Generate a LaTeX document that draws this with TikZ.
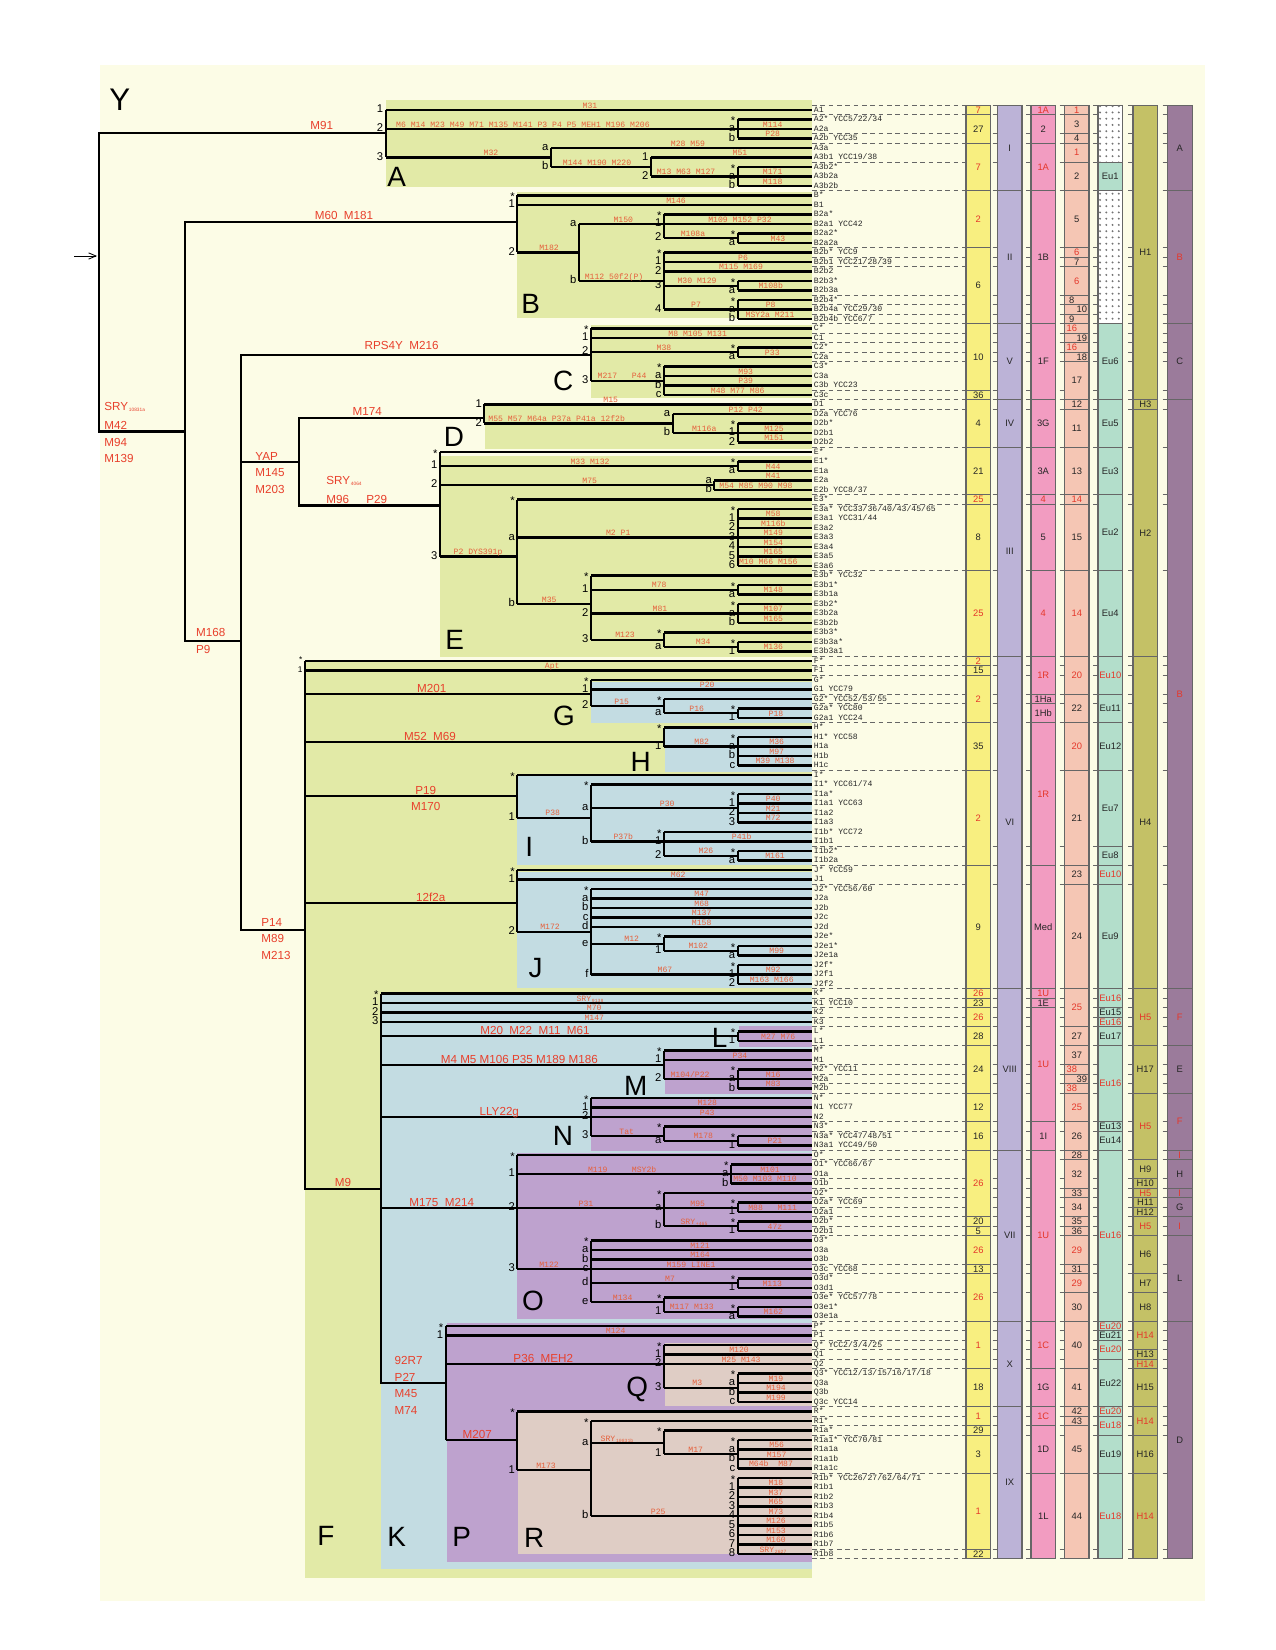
\documentclass[tikz,border=0pt]{standalone}
\usepackage{fontspec}
\setmainfont{Liberation Sans}
\setmonofont{Liberation Mono}
\usetikzlibrary{arrows.meta,patterns}
\definecolor{cream}{HTML}{FCFCE6}
\definecolor{cgreen}{HTML}{E2EAA7}
\definecolor{cblue}{HTML}{C3DCE2}
\definecolor{cpurp}{HTML}{BEA2CE}
\definecolor{cbeige}{HTML}{DFCDC5}
\definecolor{colY}{HTML}{F8EF80}
\definecolor{colL}{HTML}{BCB3D7}
\definecolor{colP}{HTML}{F29CC1}
\definecolor{colS}{HTML}{F5C6B4}
\definecolor{colM}{HTML}{B3DECB}
\definecolor{colO}{HTML}{C4C166}
\definecolor{colV}{HTML}{9B7B9B}
\definecolor{redt}{HTML}{E8402C}
\definecolor{mucol}{HTML}{E5603C}
\definecolor{rd}{HTML}{E5372A}
\definecolor{cline}{HTML}{666666}
\colorlet{bk}{black!85}
\pgfmathdeclarefunction{ry}{1}{\pgfmathparse{110+9.5*(#1)}}
\newcommand\stm{\raisebox{-1.3pt}{*}}
\newcommand\subt[1]{\raisebox{-0.6pt}{\fontsize{2.3}{3}\selectfont\,#1}}
\newcommand\brV[3]{\draw[br] (#1,{ry(#2)}) -- (#1,{ry(#3)});}
\newcommand\brH[6]{\draw[br] (#1,{ry(#3)}) -- (#2,{ry(#3)});
  \node[mk] at (#1-1.5,{ry(#3)+2.6}) {#4};
  \node[mu] at (#5,{ry(#3)-1.8}) {#6};}
\newcommand\brL[5]{\brH{#1}{812}{#2}{#3}{#4}{#5}}
\newcommand\brS[2]{\brH{#1}{812}{#2}{\stm}{0}{}}
\newcommand\colcell[6]{\filldraw[fill=#4,draw=cline,line width=0.5pt] (#1,{ry(#2-0.5)}) rectangle ++(24.5,{9.5*(#3-#2+1)});
  \node[ctx,text=#5] at (#1+12.25,{ry((#2+#3)/2)}) {#6};}

\begin{document}
\begin{tikzpicture}[x=0.48pt,y=-0.48pt,
  br/.style={line width=1pt},
  mu/.style={font=\ttfamily\fontsize{3.9}{4}\selectfont,text=mucol,anchor=base,inner sep=0pt},
  mk/.style={font=\fontsize{5.4}{6}\selectfont,anchor=base east,inner sep=0.3pt},
  big/.style={font=\fontsize{5.6}{6.5}\selectfont,text=redt,inner sep=0pt},
  lett/.style={font=\fontsize{13.4}{14}\selectfont,inner sep=0pt},
  lf/.style={font=\ttfamily\fontsize{3.9}{4}\selectfont,text=bk,anchor=base west,inner sep=0pt},
  ctx/.style={font=\fontsize{4.5}{5}\selectfont,inner sep=0pt},
  dsh/.style={cline,line width=0.5pt,dash pattern=on 2.2pt off 1.8pt}]
\useasboundingbox (0,0) rectangle (1275,1650);
\fill[white] (0,0) rectangle (1275,1650);
\fill[cream] (100,65) rectangle (1205,1601);

% clade boxes
\fill[cgreen] (385.7,100) rectangle (812,186.7);
\fill[cgreen] (517.3,191.7) rectangle (812,318);
\fill[cgreen] (591,325) rectangle (812,398.3);
\fill[cgreen] (485,403.3) rectangle (812,449);
\fill[cgreen] (440,455.7) rectangle (812,656.7);
\fill[cgreen] (305,661) rectangle (812,1578);
\fill[cblue] (591,681.7) rectangle (812,723.3);
\fill[cblue] (665,728) rectangle (812,771.7);
\fill[cblue] (517.3,775) rectangle (812,865);
\fill[cblue] (517.3,871.7) rectangle (812,988.3);
\fill[cblue] (381,992) rectangle (812,1569.3);
\fill[cpurp] (739,1026) rectangle (812,1046.7);
\fill[cpurp] (665,1049.3) rectangle (812,1094);
\fill[cpurp] (591,1097.3) rectangle (812,1150.7);
\fill[cpurp] (517.3,1153.3) rectangle (812,1319);
\fill[cpurp] (446.7,1323) rectangle (812,1561.7);
\fill[cbeige] (665,1343.3) rectangle (812,1406);
\fill[cbeige] (517.7,1410) rectangle (812,1554.3);

% cell boundaries
\foreach \k in {0,1,3,4,6,9,15,16,17,20,21,22,23,24,25,26,27,30,31,32,36,41,42,49,58,59,60,62,63,65,70,78,80,82,93,94,95,96,97,99,101,102,103,104,107,108,110,111,113,114,115,116,117,118,119,122,123,125,128,129,130,131,132,133,137,138,139,140,144,152,153} {
  \draw[dsh] (812,{ry(\k-0.5)}) -- (966,{ry(\k-0.5)});
  \foreach \g in {997.5,1031,1064.5,1098,1133,1167.5}
    \draw[cline,line width=0.5pt] (\g-5,{ry(\k-0.5)}) -- (\g,{ry(\k-0.5)});
}

% columns
\foreach \a/\b/\t/\c in {0/0/7/rd,1/3/27/bk,4/8/7/rd,9/14/2/rd,15/22/6/bk,23/29/10/bk,30/30/36/bk,31/35/4/bk,36/40/21/bk,41/41/25/rd,42/48/8/bk,49/57/25/rd,58/58/2/rd,59/59/15/bk,60/64/2/rd,65/69/35/bk,70/79/2/rd,80/92/9/bk,93/93/26/rd,94/94/23/bk,95/96/26/rd,97/98/28/bk,99/103/24/bk,104/106/12/bk,107/109/16/bk,110/116/26/rd,117/117/20/bk,118/118/5/bk,119/121/26/rd,122/122/13/bk,123/127/26/rd,128/132/1/rd,133/136/18/bk,137/138/1/rd,139/139/29/bk,140/143/3/bk,144/151/1/rd,152/152/22/bk}
  {\colcell{966}{\a}{\b}{colY}{\c}{\t}}
\foreach \a/\b/\t in {0/8/I,9/22/II,23/30/V,31/35/IV,36/57/III,58/92/VI,93/109/VIII,110/127/VII,128/136/X,137/152/IX}
  {\colcell{997.5}{\a}{\b}{colL}{bk}{\t}}
\foreach \a/\b/\t/\c in {0/0/1A/rd,1/3/2/bk,4/8/1A/rd,9/22/1B/bk,23/30/1F/bk,31/35/3G/bk,36/40/3A/bk,41/41/4/rd,42/48/5/bk,49/57/4/rd,58/61/1R/rd,62/62/1Ha/bk,63/64/1Hb/bk,65/79/1R/rd,80/92/Med/bk,93/93/1U/rd,94/94/1E/bk,95/106/1U/rd,107/109/1I/bk,110/127/1U/rd,128/132/1C/rd,133/136/1G/bk,137/138/1C/rd,139/143/1D/bk,144/152/1L/bk}
  {\colcell{1031}{\a}{\b}{colP}{\c}{\t}}
\foreach \a/\b/\t/\c in {0/0/1/rd,1/2/3/bk,3/3/4/bk,4/5/1/rd,6/8/2/bk,9/14/5/bk,15/15/6/rd,16/16/7/bk,17/19/6/rd,20/20//bk,21/21//bk,22/22//bk,23/23//rd,24/24//bk,25/25//rd,26/26//bk,27/30/17/bk,31/31/12/bk,32/35/11/bk,36/40/13/bk,41/41/14/rd,42/48/15/bk,49/57/14/rd,58/61/20/rd,62/64/22/bk,65/69/20/rd,70/79/21/bk,80/81/23/bk,82/92/24/bk,93/96/25/rd,97/98/27/bk,99/100/37/bk,101/101//rd,102/102//bk,103/103//rd,104/106/25/rd,107/109/26/bk,110/110/28/bk,111/113/32/bk,114/114/33/bk,115/116/34/bk,117/117/35/bk,118/118/36/bk,119/121/29/rd,122/122/31/bk,123/124/29/rd,125/127/30/bk,128/132/40/bk,133/136/41/bk,137/137/42/bk,138/138/43/bk,139/143/45/bk,144/152/44/bk}
  {\colcell{1064.5}{\a}{\b}{colS}{\c}{\t}}
\foreach \r/\dx/\t/\c in {20/-5/8/bk,21/5/10/bk,22/-5/9/bk,23/-5/16/rd,24/5/19/bk,25/-5/16/rd,26/5/18/bk,101/-5/38/rd,102/5/39/bk,103/-5/38/rd}
  \node[ctx,text=\c] at (1076.75+\dx,{ry(\r)}) {\t};
\foreach \a/\b/\t/\c in {6/8/Eu1/bk,23/30/Eu6/bk,31/35/Eu5/bk,36/40/Eu3/bk,41/48/Eu2/bk,49/57/Eu4/bk,58/61/Eu10/rd,62/64/Eu11/bk,65/69/Eu12/bk,70/77/Eu7/bk,78/79/Eu8/bk,80/81/Eu10/rd,82/92/Eu9/bk,93/94/Eu16/rd,95/95/Eu15/bk,96/96/Eu16/rd,97/98/Eu17/bk,99/106/Eu16/rd,107/107/Eu13/bk,108/109/Eu14/bk,110/127/Eu16/rd,128/128/Eu20/rd,129/129/Eu21/bk,130/131/Eu20/rd,132/136/Eu22/bk,137/137/Eu20/rd,138/139/Eu18/rd,140/143/Eu19/bk,144/152/Eu18/rd}
  {\colcell{1098}{\a}{\b}{colM}{\c}{\t}}
\foreach \a/\b in {0/5,9/22} {
  \colcell{1098}{\a}{\b}{white}{bk}{}
  \fill[pattern=dots,pattern color=black!55] (1098.5,{ry(\a-0.5)+0.5}) rectangle (1122,{ry(\b+0.5)-0.5});
}
\foreach \a/\b/\t/\c in {0/30/H1/bk,31/31/H3/bk,32/57/H2/bk,58/92/H4/bk,93/98/H5/rd,99/103/H17/bk,104/110/H5/rd,111/112/H9/bk,113/113/H10/bk,114/114/H5/rd,115/115/H11/bk,116/116/H12/bk,117/118/H5/rd,119/122/H6/bk,123/124/H7/bk,125/127/H8/bk,128/130/H14/rd,131/131/H13/bk,132/132/H14/rd,133/136/H15/bk,137/139/H14/rd,140/143/H16/bk,144/152/H14/rd}
  {\colcell{1133}{\a}{\b}{colO}{\c}{\t}}
\foreach \a/\b/\t/\c in {0/8/A/bk,9/22/B/rd,23/30/C/bk,31/92/B/rd,93/98/F/rd,99/103/E/bk,104/109/F/rd,110/110/I/rd,111/113/H/bk,114/114/I/rd,115/116/G/bk,117/118/I/rd,119/127/L/bk,128/152/D/bk}
  {\colcell{1167.5}{\a}{\b}{colV}{\c}{\t}}

% backbone
\coordinate (rv) at (97,256);
\coordinate (in) at (74,256);
\coordinate (kA) at (385.7,133);
\coordinate (kB) at (517.3,222);
\coordinate (kC) at (591,355);
\coordinate (kD) at (484.3,418);
\coordinate (kE) at (440,505.5);
\coordinate (kF) at (305,929.7);
\coordinate (kK) at (381,1189);
\coordinate (kP) at (445.7,{ry(134)});
\coordinate (n1) at (185.3,431.5);
\coordinate (n2) at (241,640.6);
\coordinate (n3) at (299,462.4);
\draw[line width=0.4pt,-{Straight Barb[length=3.5pt,width=3pt]}] (in) -- (rv);
\draw[br] (kA) -| (99,431.5) -- (n1);
\draw[br] (kB) -| (n1) |- (n2);
\draw[br] (kC) -| (n2) |- (kF);
\draw[br] (n2 |- n3) -- (n3);
\draw[br] (kD) -| (n3) |- (kE);
\draw[br] (305,{ry(58)}) -- (305,1189) -- (kK);
\draw[br] (381,{ry(93)}) |- (kP);

% A
\brV{385.7}{0}{5}
\brL{385.7}{0}{1}{590}{M31}
\brL{385.7}{2}{2}{523}{M6 M14 M23 M49 M71 M135 M141 P3 P4 P5 MEH1 M196 M206}
\brH{385.7}{551}{5}{3}{491}{M32}
\brV{737.7}{1}{3}
\brS{737.7}{1}
\brL{737.7}{2}{a}{772.7}{M114}
\brL{737.7}{3}{b}{772.7}{P28}
\brV{551}{4}{6}
\brL{551}{4}{a}{688}{M28 M59}
\brH{551}{651}{6}{b}{597}{M144 M190 M220}
\brV{651}{5}{7}
\brL{651}{5}{1}{740}{M51}
\brH{651}{737.7}{7}{2}{686}{M13 M63 M127}
\brV{737.7}{6}{8}
\brS{737.7}{6}
\brL{737.7}{7}{a}{772.7}{M171}
\brL{737.7}{8}{b}{772.7}{M118}
% B
\brV{517.3}{9}{15}
\brS{517.3}{9}
\brL{517.3}{10}{1}{676}{M146}
\brH{517.3}{579}{15}{2}{549}{M182}
\brV{579}{12}{18}
\brH{579}{664}{12}{a}{623.3}{M150}
\brH{579}{664}{18}{b}{614}{M112 50f2(P)}
\brV{664}{11}{13.5}
\brS{664}{11}
\brL{664}{12}{1}{740}{M109 M152 P32}
\brH{664}{737.7}{13.5}{2}{693}{M108a}
\brV{737.7}{13}{14}
\brS{737.7}{13}
\brL{737.7}{14}{a}{778}{M43}
\brV{664}{15}{21}
\brS{664}{15}
\brL{664}{16}{1}{743}{P6}
\brL{664}{17}{2}{741}{M115 M169}
\brH{664}{737.7}{18.5}{3}{697}{M30 M129}
\brH{664}{737.7}{21}{4}{696}{P7}
\brV{737.7}{18}{19}
\brS{737.7}{18}
\brL{737.7}{19}{a}{770.7}{M108b}
\brV{737.7}{20}{22}
\brS{737.7}{20}
\brL{737.7}{21}{a}{770.7}{P8}
\brL{737.7}{22}{b}{770}{MSY2a M211}
% C
\brV{591}{23}{28.5}
\brS{591}{23}
\brL{591}{24}{1}{697.7}{M8 M105 M131}
\brH{591}{737.7}{25.5}{2}{664}{M38}
\brH{591}{664}{28.5}{3}{622}{M217\ \ \ P44}
\brV{737.7}{25}{26}
\brS{737.7}{25}
\brL{737.7}{26}{a}{772.3}{P33}
\brV{664}{27}{30}
\brS{664}{27}
\brL{664}{28}{a}{745.7}{M93}
\brL{664}{29}{b}{745.7}{P39}
\brL{664}{30}{c}{737.7}{M48 M77 M86}
% D
\brV{484.3}{31}{33}
\brL{484.3}{31}{1}{610.7}{M15}
\brH{484.3}{672.7}{33}{2}{556.7}{M55 M57 M64a P37a P41a 12f2b}
\brV{672.7}{32}{34}
\brL{672.7}{32}{a}{745.7}{P12 P42}
\brH{672.7}{737.7}{34}{b}{704.3}{M116a}
\brV{737.7}{33}{35}
\brS{737.7}{33}
\brL{737.7}{34}{1}{774}{M125}
\brL{737.7}{35}{2}{774}{M151}
% E
\brV{440}{36}{47}
\brS{440}{36}
\brH{440}{737.7}{37.5}{1}{590}{M33 M132}
\brH{440}{714.3}{39.5}{2}{589.7}{M75}
\brH{440}{517.3}{47}{3}{478}{P2 DYS391p}
\brV{737.7}{37}{38}
\brS{737.7}{37}
\brL{737.7}{38}{a}{773.3}{M44}
\brV{714.3}{39}{40}
\brL{714.3}{39}{a}{773.3}{M41}
\brL{714.3}{40}{b}{756}{M54 M85 M90 M98}
\brV{517.3}{41}{52}
\brS{517.3}{41}
\brH{517.3}{737.7}{45}{a}{618.3}{M2 P1}
\brH{517.3}{591}{52}{b}{549.3}{M35}
\brV{737.7}{42}{48}
\brS{737.7}{42}
\foreach \n/\m in {1/M58,2/M116b,3/M149,4/M154,5/M165} {\brL{737.7}{42+\n}{\n}{773.3}{\m}}
\brL{737.7}{48}{6}{768.3}{M10 M66 M156}
\brV{591}{49}{55.75}
\brS{591}{49}
\brH{591}{737.7}{50.5}{1}{659.3}{M78}
\brH{591}{737.7}{53}{2}{660}{M81}
\brH{591}{664}{55.75}{3}{625}{M123}
\brV{737.7}{50}{51}
\brS{737.7}{50}
\brL{737.7}{51}{a}{773.3}{M148}
\brV{737.7}{52}{54}
\brS{737.7}{52}
\brL{737.7}{53}{a}{773.3}{M107}
\brL{737.7}{54}{b}{773.3}{M165}
\brV{664}{55}{56.5}
\brS{664}{55}
\brH{664}{737.7}{56.5}{a}{703.3}{M34}
\brV{737.7}{56}{57}
\brS{737.7}{56}
\brL{737.7}{57}{1}{773.3}{M136}
% F
\brL{305}{58}{}{0}{}
\brL{305}{59}{}{552.3}{Apt}
\node[mk,font=\fontsize{4}{4}\selectfont] at (303.5,{ry(58)+1}) {*};
\node[mk,font=\fontsize{4}{4}\selectfont] at (303.5,{ry(59)+1.8}) {1};
\brH{305}{591}{61.5}{}{0}{}
\brH{305}{664}{66.5}{}{0}{}
\brH{305}{517.3}{72.2}{}{0}{}
\brH{305}{517.3}{83.5}{}{0}{}
% G
\brV{591}{60}{62.75}
\brS{591}{60}
\brL{591}{61}{1}{707.3}{P20}
\brH{591}{664}{62.75}{2}{621.7}{P15}
\brV{664}{62}{63.5}
\brS{664}{62}
\brH{664}{737.7}{63.5}{a}{696.7}{P16}
\brV{737.7}{63}{64}
\brS{737.7}{63}
\brL{737.7}{64}{1}{776}{P18}
% H
\brV{664}{65}{67}
\brS{664}{65}
\brH{664}{737.7}{67}{1}{701.7}{M82}
\brV{737.7}{66}{69}
\brS{737.7}{66}
\brL{737.7}{67}{a}{776.7}{M36}
\brL{737.7}{68}{b}{776.7}{M97}
\brL{737.7}{69}{c}{775}{M39 M138}
% I
\brV{517.3}{70}{74.5}
\brS{517.3}{70}
\brH{517.3}{591}{74.5}{1}{552.7}{P38}
\brV{591}{71}{77}
\brS{591}{71}
\brH{591}{737.7}{73.5}{a}{667.3}{P30}
\brH{591}{664}{77}{b}{623.3}{P37b}
\brV{737.7}{72}{75}
\brS{737.7}{72}
\brL{737.7}{73}{1}{773.3}{P40}
\brL{737.7}{74}{2}{773.3}{M21}
\brL{737.7}{75}{3}{773.3}{M72}
\brV{664}{76}{78.5}
\brS{664}{76}
\brL{664}{77}{1}{741.7}{P41b}
\brH{664}{737.7}{78.5}{2}{706}{M26}
\brV{737.7}{78}{79}
\brS{737.7}{78}
\brL{737.7}{79}{a}{775}{M161}
% J
\brV{517.3}{80}{86.5}
\brS{517.3}{80}
\brL{517.3}{81}{1}{678.3}{M62}
\brH{517.3}{591}{86.5}{2}{550}{M172}
\brV{591}{82}{91}
\brS{591}{82}
\brL{591}{83}{a}{701.7}{M47}
\brL{591}{84}{b}{701.7}{M68}
\brL{591}{85}{c}{701.7}{M137}
\brL{591}{86}{d}{701.7}{M158}
\brH{591}{664}{87.75}{e}{631.7}{M12}
\brH{591}{737.7}{91}{f}{665}{M67}
\brV{664}{87}{88.5}
\brS{664}{87}
\brH{664}{737.7}{88.5}{1}{698.3}{M102}
\brV{737.7}{88}{89}
\brS{737.7}{88}
\brL{737.7}{89}{a}{776.7}{M99}
\brV{737.7}{90}{92}
\brS{737.7}{90}
\brL{737.7}{91}{1}{773.3}{M92}
\brL{737.7}{92}{2}{771.7}{M163 M166}
% K
\brS{381}{93}
\brL{381}{94}{1}{590}{SRY\subt{9138}}
\brL{381}{95}{2}{594.3}{M70}
\brL{381}{96}{3}{594.3}{M147}
\brH{381}{737.7}{97.5}{}{0}{}
\brH{381}{664}{100.5}{}{0}{}
\brH{381}{591}{106}{}{0}{}
\brH{381}{517.3}{115.6}{}{0}{}
% L
\brV{737.7}{97}{98}
\brS{737.7}{97}
\brL{737.7}{98}{1}{778.3}{M27 M76}
% M
\brV{664}{99}{102}
\brS{664}{99}
\brL{664}{100}{1}{740}{P34}
\brH{664}{737.7}{102}{2}{690}{M104/P22}
\brV{737.7}{101}{103}
\brS{737.7}{101}
\brL{737.7}{102}{a}{773.3}{M16}
\brL{737.7}{103}{b}{773.3}{M83}
% N
\brV{591}{104}{108}
\brS{591}{104}
\brL{591}{105}{1}{707.3}{M128}
\brL{591}{106}{2}{707.3}{P43}
\brH{591}{664}{108}{3}{626.7}{Tat}
\brV{664}{107}{108.5}
\brS{664}{107}
\brH{664}{737.7}{108.5}{a}{703.3}{M178}
\brV{737.7}{108}{109}
\brS{737.7}{108}
\brL{737.7}{109}{1}{775}{P21}
% O
\brV{517.3}{110}{122}
\brS{517.3}{110}
\brH{517.3}{731}{112}{1}{622.2}{M119\ \ \ \ \ MSY2b}
\brH{517.3}{664}{115.6}{2}{586}{P31}
\brH{517.3}{591}{122}{3}{549}{M122}
\brV{731}{111}{113}
\brS{731}{111}
\brL{731}{112}{a}{770}{M101}
\brL{731}{113}{b}{765}{M50 M103 M110}
\brV{664}{114}{117.5}
\brS{664}{114}
\brH{664}{737.7}{115.6}{a}{697.7}{M95}
\brH{664}{737.7}{117.5}{b}{694}{SRY\subt{+465}}
\brV{737.7}{115}{116}
\brS{737.7}{115}
\brL{737.7}{116}{1}{772.7}{M88\ \ \ M111}
\brV{737.7}{117}{118}
\brS{737.7}{117}
\brL{737.7}{118}{1}{775}{47z}
\brV{591}{119}{125.5}
\brS{591}{119}
\brL{591}{120}{a}{700}{M121}
\brL{591}{121}{b}{700}{M164}
\brL{591}{122}{c}{691}{M159 LINE1}
\brH{591}{737.7}{123.5}{d}{670}{M7}
\brH{591}{664}{125.5}{e}{622.7}{M134}
\brV{737.7}{123}{124}
\brS{737.7}{123}
\brL{737.7}{124}{1}{772.3}{M113}
\brV{664}{125}{126.5}
\brS{664}{125}
\brH{664}{737.7}{126.5}{1}{691.7}{M117 M133}
\brV{737.7}{126}{127}
\brS{737.7}{126}
\brL{737.7}{127}{a}{773.3}{M162}
% P
\brV{445.7}{128}{140}
\brS{445.7}{128}
\brL{445.7}{129}{1}{615.7}{M124}
\brH{445.7}{664}{132}{}{0}{}
\brH{445.7}{517.3}{140}{}{0}{}
% Q
\brV{664}{130}{134.5}
\brS{664}{130}
\brL{664}{131}{1}{739}{M120}
\brL{664}{132}{2}{741}{M25 M143}
\brH{664}{737.7}{134.5}{3}{697.3}{M3}
\brV{737.7}{133}{136}
\brS{737.7}{133}
\brL{737.7}{134}{a}{776}{M19}
\brL{737.7}{135}{b}{776}{M194}
\brL{737.7}{136}{c}{776}{M199}
% R
\brV{517.3}{137}{143.2}
\brS{517.3}{137}
\brH{517.3}{591}{143.2}{1}{546}{M173}
\brV{591}{138}{148}
\brS{591}{138}
\brH{591}{664}{140.3}{a}{617}{SRY\subt{10831b}}
\brH{591}{737.7}{148}{b}{658.3}{P25}
\brV{664}{139}{141.5}
\brS{664}{139}
\brH{664}{737.7}{141.5}{1}{695.7}{M17}
\brV{737.7}{140}{143}
\brS{737.7}{140}
\brL{737.7}{141}{a}{776.7}{M56}
\brL{737.7}{142}{b}{776.7}{M157}
\brL{737.7}{143}{c}{771}{M64b\ \ M87}
\brV{737.7}{144}{152}
\brS{737.7}{144}
\foreach \n/\m in {1/M18,2/M37,3/M65,4/M73,5/M126,6/M153,7/M160} {\brL{737.7}{144+\n}{\n}{776}{\m}}
\brL{737.7}{152}{8}{773}{SRY\subt{2627}}

% leaf names
\foreach \t [count=\i from 0] in {A1,A2* YCC5/22/34,A2a,A2b YCC35,A3a,A3b1 YCC19/38,A3b2*,A3b2a,A3b2b,
  B*,B1,B2a*,B2a1 YCC42,B2a2*,B2a2a,B2b* YCC9,B2b1 YCC21/28/39,B2b2,B2b3*,B2b3a,B2b4*,B2b4a YCC29/30,B2b4b YCC6/7,
  C*,C1,C2*,C2a,C3*,C3a,C3b YCC23,C3c,
  D1,D2a YCC76,D2b*,D2b1,D2b2,
  E*,E1*,E1a,E2a,E2b YCC8/37,E3*,E3a* YCC33/36/40/43/45/65,E3a1 YCC31/44,E3a2,E3a3,E3a4,E3a5,E3a6,E3b* YCC32,E3b1*,E3b1a,E3b2*,E3b2a,E3b2b,E3b3*,E3b3a*,E3b3a1,
  F*,F1,
  G*,G1 YCC79,G2* YCC52/53/55,G2a* YCC80,G2a1 YCC24,
  H*,H1* YCC58,H1a,H1b,H1c,
  I*,I1* YCC61/74,I1a*,I1a1 YCC63,I1a2,I1a3,I1b* YCC72,I1b1,I1b2*,I1b2a,
  J* YCC59,J1,J2* YCC56/60,J2a,J2b,J2c,J2d,J2e*,J2e1*,J2e1a,J2f*,J2f1,J2f2,
  K*,K1 YCC10,K2,K3,
  L*,L1,
  M*,M1,M2* YCC11,M2a,M2b,
  N*,N1 YCC77,N2,N3*,N3a* YCC47/48/51,N3a1 YCC49/50,
  O*,O1* YCC66/67,O1a,O1b,O2*,O2a* YCC69,O2a1,O2b*,O2b1,O3*,O3a,O3b,O3c YCC68,O3d*,O3d1,O3e* YCC57/78,O3e1*,O3e1a,
  P*,P1,
  Q* YCC2/3/4/25,Q1,Q2,Q3* YCC12/13/15/16/17/18,Q3a,Q3b,Q3c YCC14,
  R*,R1*,R1a*,R1a1* YCC70/81,R1a1a,R1a1b,R1a1c,R1b* YCC26/27/62/64/71,R1b1,R1b2,R1b3,R1b4,R1b5,R1b6,R1b7,R1b8}
  \node[lf] at (813.5,{ry(\i)+2.4}) {\t};

% branch labels
\node[big,anchor=base] at (321.7,130) {M91};
\node[big,anchor=base] at (344,219.5) {M60\ \ M181};
\node[big,anchor=base] at (401.7,350) {RPS4Y\ \ M216};
\node[big,anchor=base] at (367.3,415.5) {M174};
\node[big,anchor=west] at (104,407) {SRY\subt{10831a}};
\node[big,anchor=west] at (104,425.5) {M42};
\node[big,anchor=west] at (104,442.4) {M94};
\node[big,anchor=west] at (104,458.2) {M139};
\node[big,anchor=west] at (255,456.4) {YAP};
\node[big,anchor=west] at (255,472.7) {M145};
\node[big,anchor=west] at (255,489) {M203};
\node[big,anchor=west] at (326,480.6) {SRY\subt{4064}};
\node[big,anchor=west] at (326,499.4) {M96};
\node[big,anchor=west] at (366,499.4) {P29};
\node[big,anchor=west] at (195.7,632.7) {M168};
\node[big,anchor=west] at (195.7,649) {P9};
\node[big,anchor=west] at (261,922.4) {P14};
\node[big,anchor=west] at (261,938.8) {M89};
\node[big,anchor=west] at (261,955.8) {M213};
\node[big,anchor=base] at (431.7,{ry(61.5)-1.5}) {M201};
\node[big,anchor=base] at (430,{ry(66.5)-1.5}) {M52\ \ M69};
\node[big,anchor=base] at (425.7,{ry(72.2)-1.5}) {P19};
\node[big] at (425.7,{ry(72.2)+11}) {M170};
\node[big,anchor=base] at (430.7,{ry(83.5)-1.5}) {12f2a};
\node[big,anchor=base] at (343,1186) {M9};
\node[big,anchor=base] at (535,{ry(97.5)-1.5}) {M20\ \ M22\ \ M11\ \ M61};
\node[big,anchor=base] at (519.3,{ry(100.5)-1.5}) {M4 M5 M106 P35 M189 M186};
\node[big,anchor=base] at (499.3,{ry(106)-1.5}) {LLY22g};
\node[big,anchor=base] at (441.7,{ry(115.6)-1.5}) {M175\ \ M214};
\node[big,anchor=west] at (394.3,1360.7) {92R7};
\node[big,anchor=west] at (394.3,1377.3) {P27};
\node[big,anchor=west] at (394.3,1393.3) {M45};
\node[big,anchor=west] at (394.3,1410) {M74};
\node[big,anchor=base] at (543.3,{ry(132)-1.5}) {P36\ \ MEH2};
\node[big,anchor=base] at (477.3,{ry(140)-1.5}) {M207};

% clade letters
\node[lett,font=\fontsize{15}{16}\selectfont] at (119.7,100) {Y};
\node[lett] at (396.7,176.7) {A};
\node[lett] at (530.7,304) {B};
\node[lett] at (563.3,380.7) {C};
\node[lett] at (454,437.3) {D};
\node[lett] at (454.7,640) {E};
\node[lett] at (326,1536) {F};
\node[lett] at (564,715.7) {G};
\node[lett] at (640.7,761.7) {H};
\node[lett] at (529.3,847.3) {I};
\node[lett] at (535.7,968.3) {J};
\node[lett] at (396.7,1536.7) {K};
\node[lett] at (719.7,1038) {L};
\node[lett] at (635.7,1085.7) {M};
\node[lett] at (563,1135.7) {N};
\node[lett] at (533,1300.7) {O};
\node[lett] at (461.7,1536.7) {P};
\node[lett] at (637.3,1389) {Q};
\node[lett] at (534.3,1538) {R};
\end{tikzpicture}
\end{document}
